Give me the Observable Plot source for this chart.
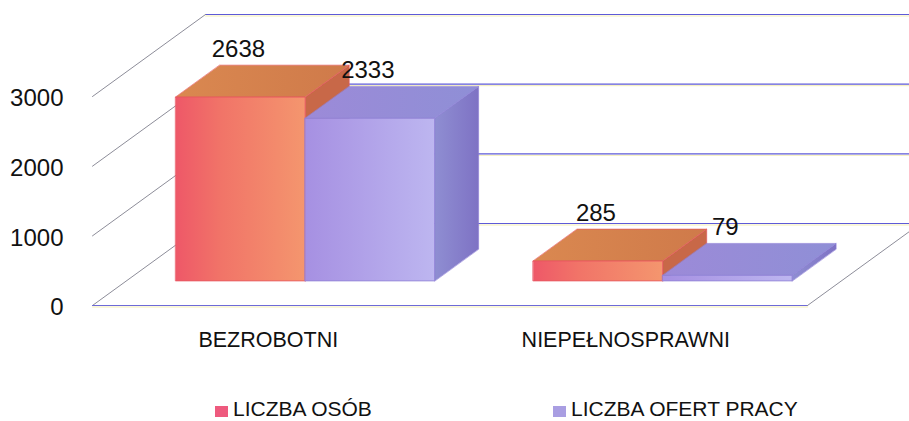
<!DOCTYPE html>
<html>
<head>
<meta charset="utf-8">
<script src="https://cdn.jsdelivr.net/npm/d3@7"></script>
<script src="https://cdn.jsdelivr.net/npm/@observablehq/plot@0.6"></script>
<style>
  body { margin: 0; background: #fff; }
  #wrap { position: relative; width: 909px; height: 421px; overflow: hidden; font-family: "Liberation Sans", Arial, sans-serif; background: #fff; }
  #legend { position: absolute; left: 0; top: 398px; width: 909px; height: 23px; font-size: 21px; line-height: 21px; color: #111; }
  .item { position: absolute; top: 0; white-space: nowrap; }
  .sw { position: absolute; top: 8px; width: 13px; height: 11px; }
</style>
</head>
<body>
<div id="wrap"><div id="legend"></div></div>
<script>
// ---- data ----
const categories = ["BEZROBOTNI", "NIEPEŁNOSPRAWNI"];
const seriesNames = ["LICZBA OSÓB", "LICZBA OFERT PRACY"];
const liczbaOsob = [2638, 285];
const liczbaOfert = [2333, 79];
const yTicks = [0, 1000, 2000, 3000];

// ---- projection (oblique 3D) ----
const KX = 113 / 357.5;          // x shift per unit depth (category units)
const KY = 82 / (209 / 3000);    // y shift per unit depth (value units)
const BAR = 0.362;               // bar width in category units
const D0 = 0.30, D1 = 0.69;      // bar depth extent
const P = (wx, v, d) => ({x: wx + d * KX, y: v + d * KY});

const styles = [
  {front: "url(#gOF)", top: "url(#gOT)", side: "#c86848", stroke: "#e85560", legend: "#ee5a7e"},
  {front: "url(#gPF)", top: "url(#gPT)", side: "url(#gPS)", stroke: "#8f80d6", legend: "#a99ee2"}
];
const seriesValues = [liczbaOsob, liczbaOfert];

// defs for gradients
const defsMark = () => {
  const ns = "http://www.w3.org/2000/svg";
  const defs = document.createElementNS(ns, "defs");
  const grads = [
    ["gOF", [["0%", "#ee5868"], ["35%", "#f17468"], ["100%", "#f4966e"]]],
    ["gOT", [["0%", "#da8850"], ["100%", "#cf7a4a"]]],
    ["gPF", [["0%", "#a690e2"], ["100%", "#bdb6f0"]]],
    ["gPT", [["0%", "#9c8ad8"], ["100%", "#8f8fd6"]]],
    ["gPS", [["0%", "#8f8ed2"], ["100%", "#7e72c4"]]]
  ];
  for (const [id, stops] of grads) {
    const g = document.createElementNS(ns, "linearGradient");
    g.setAttribute("id", id);
    g.setAttribute("x1", 0); g.setAttribute("y1", 0);
    g.setAttribute("x2", 1); g.setAttribute("y2", 0);
    for (const [o, c] of stops) {
      const s = document.createElementNS(ns, "stop");
      s.setAttribute("offset", o); s.setAttribute("stop-color", c);
      g.appendChild(s);
    }
    defs.appendChild(g);
  }
  return defs;
};

// ---- walls ----
const gridMarks = [];
for (const v of yTicks) {
  const back = [P(-0.5, v, 1), P(1.5, v, 1)];
  gridMarks.push(Plot.line(back, {x: "x", y: "y", stroke: "#ece27a", strokeOpacity: 0.55, strokeWidth: 1, dy: 1.5}));
  gridMarks.push(Plot.line(back, {x: "x", y: "y", stroke: "#5e5ad8", strokeWidth: 1.1}));
  gridMarks.push(Plot.line([P(-0.5, v, 0), P(-0.5, v, 1)], {x: "x", y: "y", stroke: "#8d8d99", strokeWidth: 1}));
}
const floorFront = [P(-0.5, 0, 0), P(1.5, 0, 0)];
gridMarks.push(Plot.line(floorFront, {x: "x", y: "y", stroke: "#ece27a", strokeOpacity: 0.55, strokeWidth: 1, dy: 1.5}));
gridMarks.push(Plot.line(floorFront, {x: "x", y: "y", stroke: "#6e6ad8", strokeWidth: 1.1}));
gridMarks.push(Plot.line([P(1.5, 0, 0), P(1.5, 0, 1)], {x: "x", y: "y", stroke: "#8d8d99", strokeWidth: 1}));

// ---- bars ----
const barMarks = [];
const labelRows = [];
categories.forEach((cat, i) => {
  seriesValues.forEach((vals, s) => {
    const v = vals[i];
    const wx0 = i - BAR + s * BAR, wx1 = wx0 + BAR;
    const st = styles[s];
    const side = [P(wx1, 0, D0), P(wx1, v, D0), P(wx1, v, D1), P(wx1, 0, D1)];
    const top = [P(wx0, v, D0), P(wx1, v, D0), P(wx1, v, D1), P(wx0, v, D1)];
    const front = [P(wx0, 0, D0), P(wx1, 0, D0), P(wx1, v, D0), P(wx0, v, D0)];
    barMarks.push(Plot.line(side, {x: "x", y: "y", fill: st.side, stroke: st.stroke, strokeWidth: 0.6, curve: "linear-closed"}));
    barMarks.push(Plot.line(top, {x: "x", y: "y", fill: st.top, stroke: st.stroke, strokeWidth: 0.6, curve: "linear-closed"}));
    barMarks.push(Plot.line(front, {x: "x", y: "y", fill: st.front, stroke: st.stroke, strokeWidth: 0.8, curve: "linear-closed"}));
    labelRows.push({x: (wx0 + wx1) / 2 + D0 * KX, y: v + D1 * KY, text: String(v)});
  });
});

const plot = Plot.plot({
  width: 909,
  height: 398,
  style: {fontFamily: "'Liberation Sans', Arial, sans-serif", background: "transparent", overflow: "hidden"},
  x: {type: "linear", domain: [-0.5, 1.5], range: [92, 807], axis: null},
  y: {type: "linear", domain: [0, 3000], range: [305, 96], axis: null},
  marks: [
    defsMark,
    ...gridMarks,
    ...barMarks,
    Plot.text(labelRows, {x: "x", y: "y", text: "text", fontSize: 24, fill: "#111", lineAnchor: "bottom", dy: -8, dx: -2}),
    Plot.text(yTicks, {x: -0.5, y: d => d, text: d => String(d), textAnchor: "end", lineAnchor: "middle", fontSize: 24, fill: "#111", dx: -29, dy: 2}),
    Plot.text(categories, {x: (d, i) => i, y: 0, text: d => d, fontSize: 21.5, fill: "#111", lineAnchor: "bottom", dy: 41, dx: -3})
  ]
});
const wrap = document.getElementById("wrap");
wrap.insertBefore(plot, wrap.firstChild);

// ---- legend ----
const legend = document.getElementById("legend");
const legendX = [215, 553];
seriesNames.forEach((name, s) => {
  const sw = document.createElement("div");
  sw.className = "sw";
  sw.style.left = legendX[s] + "px";
  sw.style.background = styles[s].legend;
  legend.appendChild(sw);
  const t = document.createElement("div");
  t.className = "item";
  t.style.left = (legendX[s] + 18) + "px";
  t.textContent = name;
  legend.appendChild(t);
});
</script>
</body>
</html>
